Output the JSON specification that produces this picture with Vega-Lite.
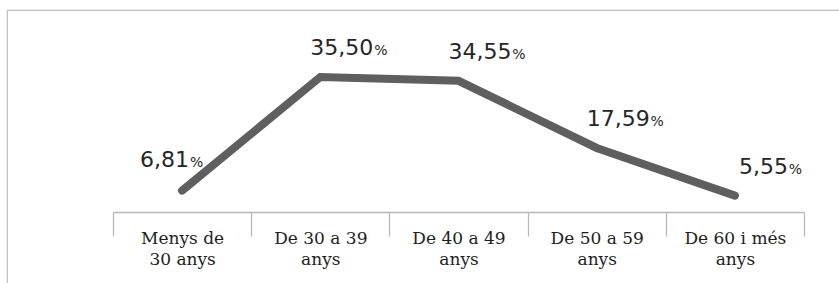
{
  "$schema": "https://vega.github.io/schema/vega-lite/v6.json",
  "autosize": {"type": "none"},
  "width": 852,
  "height": 293,
  "padding": {"left": 7, "top": 10, "right": -20, "bottom": -20},
  "background": "white",
  "config": {
    "view": {"stroke": "#bdbdbd", "strokeWidth": 1.2},
    "locale": {"number": {"decimal": ",", "thousands": ".", "grouping": [3], "currency": ["", " €"]}}
  },
  "data": {
    "values": [
      {"grup": "Menys de 30 anys", "pct": 6.81},
      {"grup": "De 30 a 39 anys", "pct": 35.50},
      {"grup": "De 40 a 49 anys", "pct": 34.55},
      {"grup": "De 50 a 59 anys", "pct": 17.59},
      {"grup": "De 60 i més anys", "pct": 5.55}
    ]
  },
  "encoding": {
    "x": {
      "field": "grup",
      "type": "nominal",
      "sort": null,
      "scale": {"type": "band", "range": [106, 797], "paddingInner": 0, "paddingOuter": 0},
      "axis": {
        "title": null,
        "offset": -91,
        "domainColor": "#b8b8b8",
        "domainWidth": 1.3,
        "tickColor": "#b8b8b8",
        "tickWidth": 1.3,
        "tickSize": 24,
        "tickBand": "extent",
        "labelFont": "DejaVu Serif",
        "labelFontSize": 17,
        "labelColor": "#1e1e1e",
        "labelPadding": 7.5,
        "labelBaseline": "alphabetic",
        "labelLineHeight": 21,
        "labelAngle": 0,
        "labelOverlap": false,
        "labelExpr": "datum.label == 'Menys de 30 anys' ? ['Menys de', '30 anys'] : (indexof(datum.label + '', ' anys') > 0 ? [replace(datum.label, ' anys', ''), 'anys'] : '')"
      }
    },
    "y": {
      "field": "pct",
      "type": "quantitative",
      "scale": {"domain": [0, 40], "range": [207.6, 49.2]},
      "axis": null
    }
  },
  "layer": [
    {"mark": {"type": "line", "color": "#5f5f5f", "strokeWidth": 8, "strokeCap": "round", "strokeJoin": "miter"}},
    {
      "transform": [{"filter": "datum.grup == 'Menys de 30 anys'"}],
      "layer": [
        {"mark": {"type": "text", "align": "right", "baseline": "alphabetic", "dx": 7, "dy": -24, "font": "DejaVu Sans", "fontSize": 22, "color": "#262626"},
         "encoding": {"text": {"field": "pct", "type": "quantitative", "format": ".2f"}}},
        {"mark": {"type": "text", "align": "center", "baseline": "alphabetic", "dx": 14.5, "dy": -24, "font": "DejaVu Sans", "fontSize": 14, "color": "#262626"},
         "encoding": {"text": {"value": "%"}}}
      ]
    },
    {
      "transform": [{"filter": "datum.grup != 'Menys de 30 anys'"}],
      "layer": [
        {"mark": {"type": "text", "align": "right", "baseline": "alphabetic", "dx": 53, "dy": -22, "font": "DejaVu Sans", "fontSize": 22, "color": "#262626"},
         "encoding": {"text": {"field": "pct", "type": "quantitative", "format": ".2f"}}},
        {"mark": {"type": "text", "align": "center", "baseline": "alphabetic", "dx": 60.5, "dy": -22, "font": "DejaVu Sans", "fontSize": 14, "color": "#262626"},
         "encoding": {"text": {"value": "%"}}}
      ]
    }
  ]
}
